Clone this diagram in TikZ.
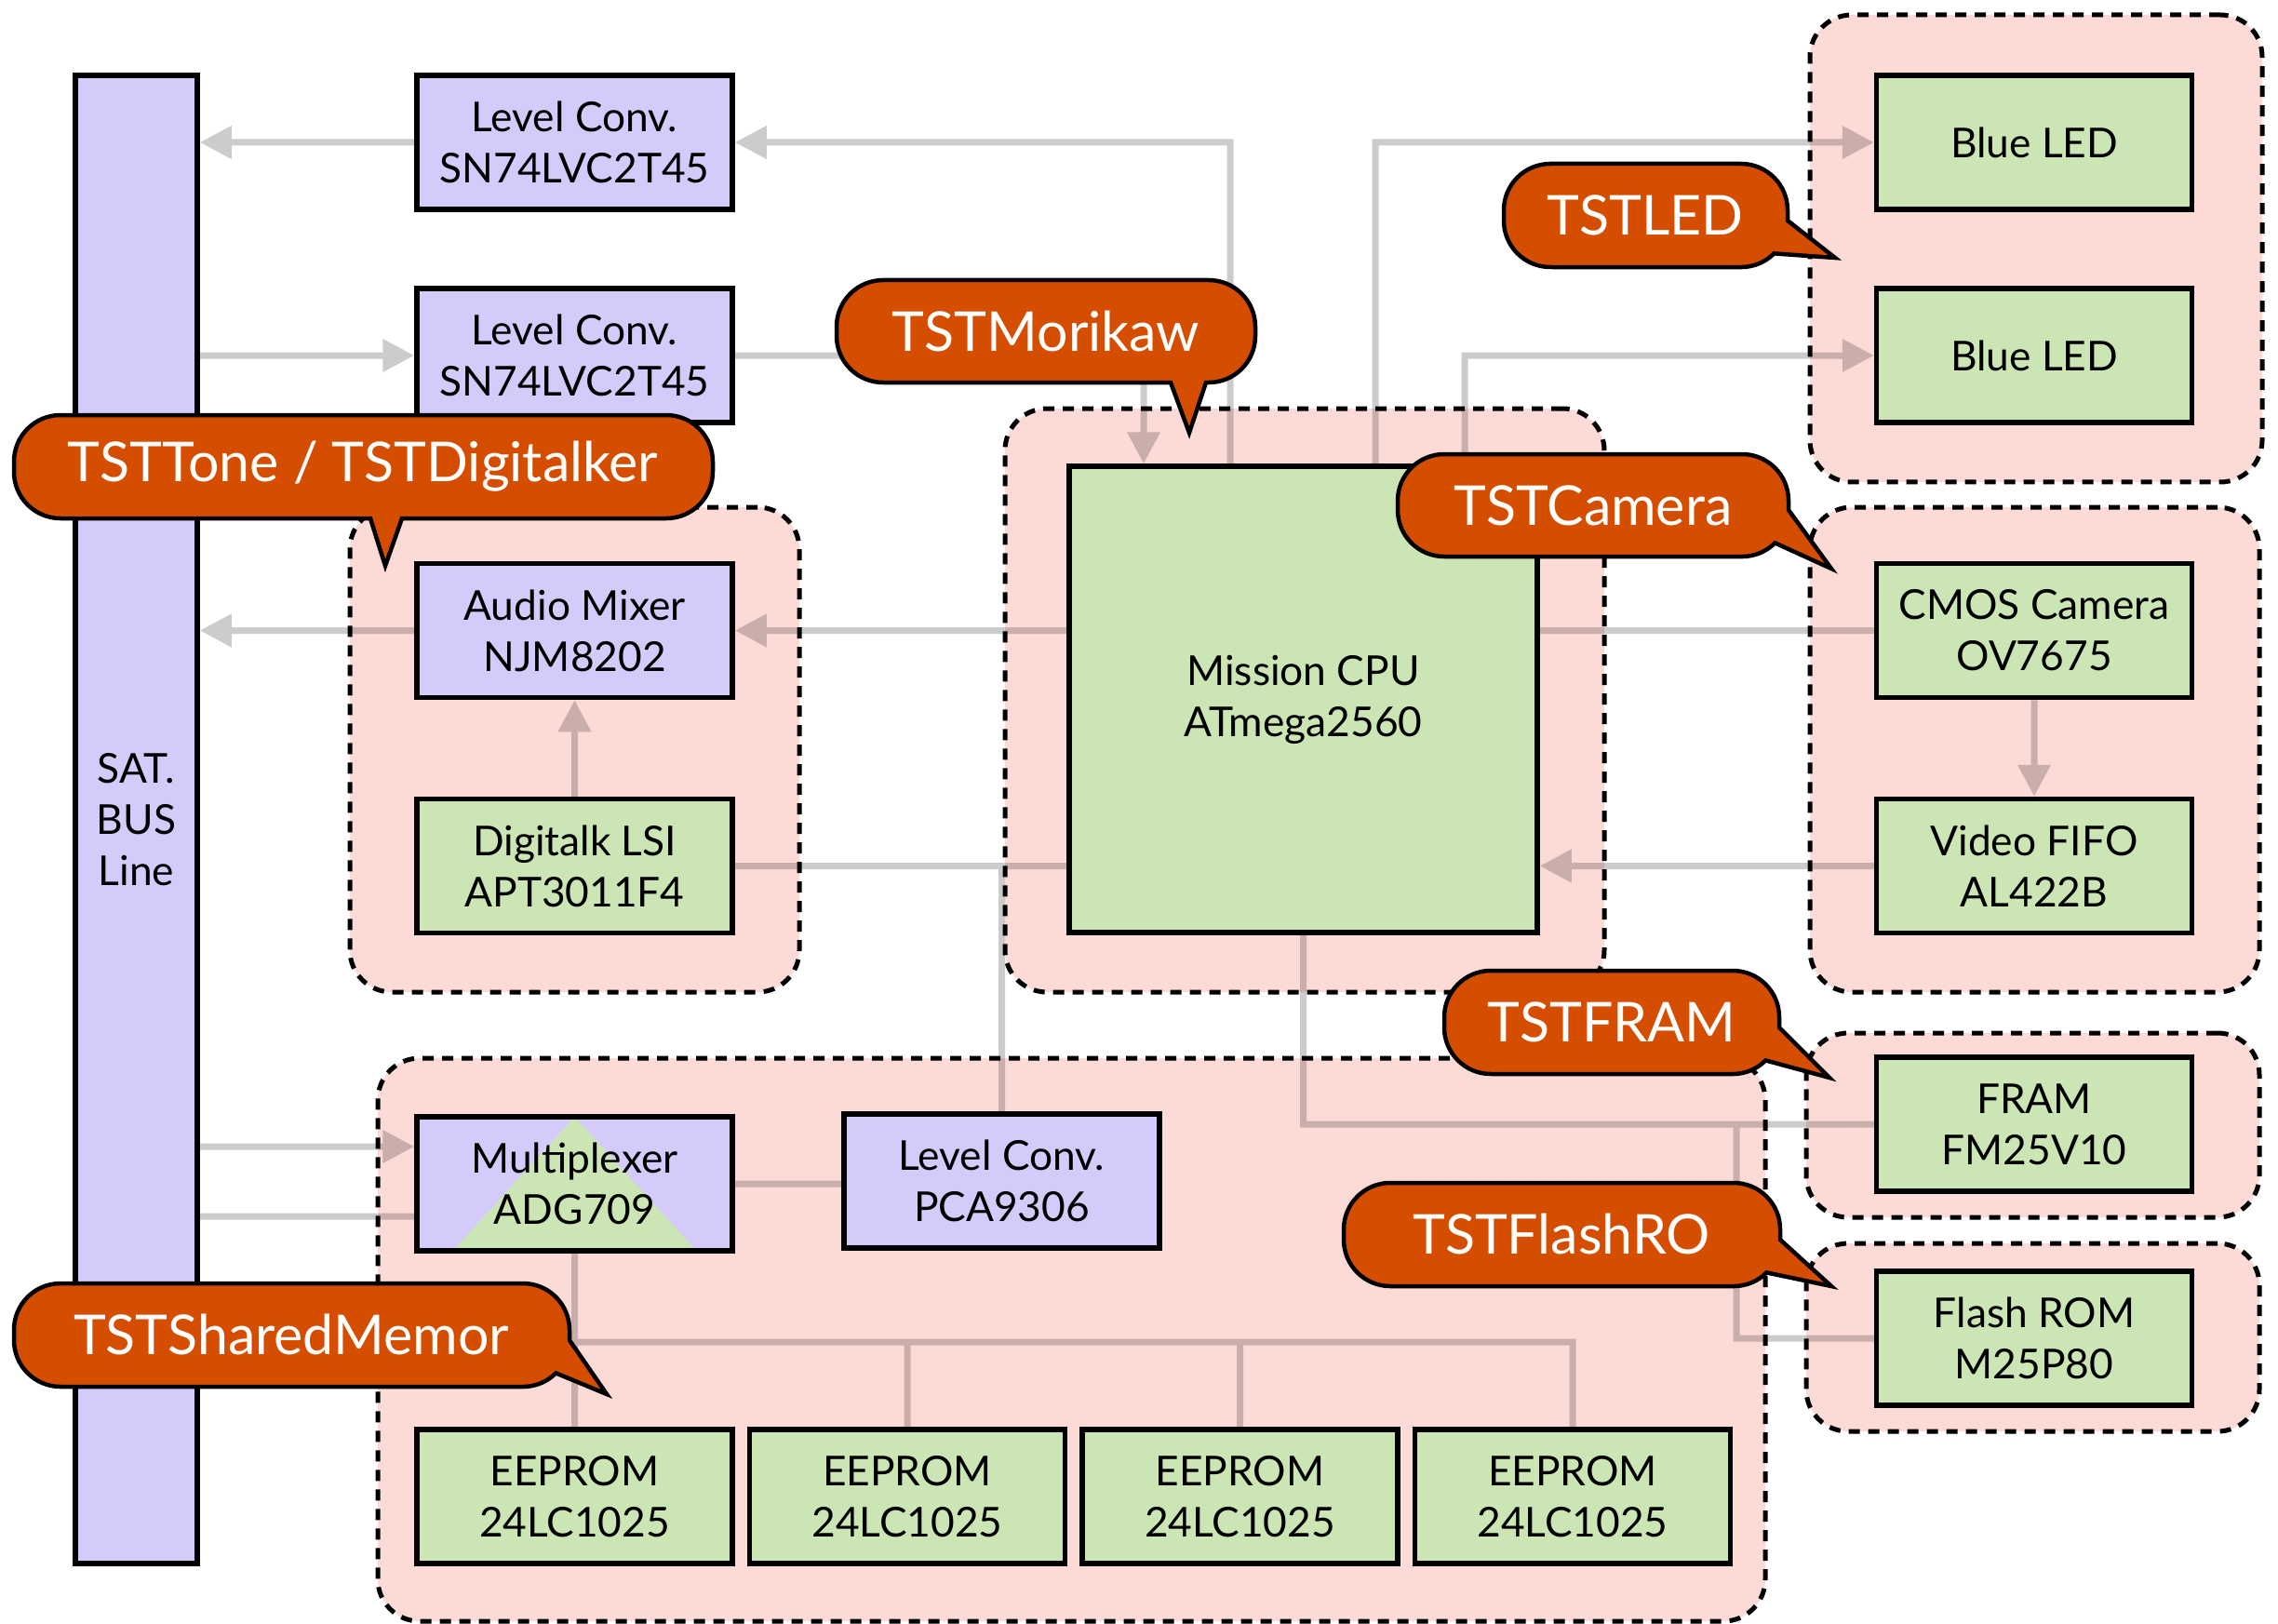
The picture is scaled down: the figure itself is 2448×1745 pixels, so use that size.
\documentclass[tikz,border=0pt]{standalone}
\usepackage{fontspec}
\setmainfont{Lato}
\usetikzlibrary{arrows.meta,calc}
\definecolor{boxpurple}{HTML}{D5CBFB}
\definecolor{boxgreen}{HTML}{CCE5B4}
\definecolor{grouppink}{HTML}{FCDAD6}
\definecolor{calloutorange}{HTML}{D54E00}
\newcommand{\bxfont}{\fontsize{12.6}{15.6}\selectfont}
\newcommand{\clfont}{\fontsize{16.8}{19}\selectfont}
\pgfdeclarelayer{base}
\pgfdeclarelayer{grp}
\pgfdeclarelayer{conlayer}
\pgfsetlayers{base,grp,conlayer,main}
\begin{document}
\begin{tikzpicture}[x=0.1mm, y=-0.1mm,
  box/.style={draw=black, line width=0.55mm, minimum width=33.9mm, minimum height=14.4mm, inner sep=0pt, align=center, font=\bxfont, text=black},
  pbox/.style={box, fill=boxpurple},
  gbox/.style={box, fill=boxgreen},
  group/.style={draw=black, fill=grouppink, line width=0.5mm, dash pattern=on 1.2mm off 0.9mm, rounded corners=4.5mm, inner sep=0pt},
  conn/.style={line width=0.7mm, draw=black},
  arr/.style={conn, -{Triangle[length=3.4mm, width=3.4mm]}},
  callout/.style={fill=calloutorange, draw=black, line width=0.45mm},
  ctext/.style={text=white, font=\clfont, inner sep=0pt}
]
\begin{pgfonlayer}{base}
\fill[white] (0,0) rectangle (2448,1745);
\end{pgfonlayer}
\useasboundingbox (0,0) rectangle (2448,1745);

% ---------- groups ----------
\begin{pgfonlayer}{grp}
\node[group, minimum width=48.6mm, minimum height=50.2mm] (gLED) at (2188,267) {};
\node[group, minimum width=48.3mm, minimum height=52.1mm] (gCam) at (2186.5,805.5) {};
\node[group, minimum width=48.7mm, minimum height=19.8mm] (gFRAM) at (2184.5,1209) {};
\node[group, minimum width=48.7mm, minimum height=20.2mm] (gFlash) at (2184.5,1437) {};
\node[group, minimum width=64.4mm, minimum height=62.7mm] (gMori) at (1402,752.5) {};
\node[group, minimum width=48.3mm, minimum height=52.1mm] (gTone) at (617.5,805.5) {};
\node[group, minimum width=149.1mm, minimum height=60.5mm] (gShared) at (1151.5,1439.5) {};
\end{pgfonlayer}

% ---------- boxes ----------
\node[draw=black, fill=boxpurple, line width=0.55mm, minimum width=13.1mm, minimum height=159.9mm, inner sep=0pt, align=center, font=\bxfont] (bus) at (146.5,880.5) {SAT.\\BUS\\Line};
\node[pbox] (lc1) at (617.5,153) {Level Conv.\\SN74LVC2T45};
\node[pbox] (lc2) at (617.5,382) {Level Conv.\\SN74LVC2T45};
\node[pbox] (mixer) at (617.5,677.5) {Audio Mixer\\NJM8202};
\node[gbox] (digi) at (617.5,930.5) {Digitalk LSI\\APT3011F4};
\node[pbox, path picture={\fill[boxgreen] (path picture bounding box.north) -- ($(path picture bounding box.south)+(13.1mm,0)$) -- ($(path picture bounding box.south)+(-13.1mm,0)$) -- cycle;}] (mux) at (617.5,1272) {Multiplexer\\ADG709};
\node[pbox] (pca) at (1076.5,1269) {Level Conv.\\PCA9306};
\node[gbox] (e1) at (617.5,1608) {EEPROM\\24LC1025};
\node[gbox] (e2) at (975,1608) {EEPROM\\24LC1025};
\node[gbox] (e3) at (1332.5,1608) {EEPROM\\24LC1025};
\node[gbox] (e4) at (1690,1608) {EEPROM\\24LC1025};
\node[gbox, minimum width=50.3mm, minimum height=50.1mm] (cpu) at (1400.5,751.5) {Mission CPU\\ATmega2560};
\node[gbox] (led1) at (2186,153) {Blue LED};
\node[gbox] (led2) at (2186,382) {Blue LED};
\node[gbox] (cmos) at (2186,677.5) {CMOS Camera\\OV7675};
\node[gbox] (fifo) at (2186,930.5) {Video FIFO\\AL422B};
\node[gbox] (fram) at (2186,1208) {FRAM\\FM25V10};
\node[gbox] (flash) at (2186,1438) {Flash ROM\\M25P80};

% ---------- connector helper coordinates ----------
\coordinate (xA) at (1322,0);
\coordinate (xB) at (1229,0);
\coordinate (xC) at (1478,0);
\coordinate (xD) at (1574,0);
\coordinate (xF) at (1866,0);
\coordinate (yM1) at (0,1232);
\coordinate (yM2) at (0,1307);
\coordinate (yT) at (0,1442);

% ---------- connectors ----------
\begin{pgfonlayer}{conlayer}
\begin{scope}[transparency group, opacity=0.2]
\draw[arr] (lc1.west) -- (lc1.west -| bus.east);
\draw[arr] (cpu.north -| xA) |- (lc1.east);
\draw[arr] (bus.east |- lc2.west) -- (lc2.west);
\draw[arr] (lc2.east) -| (cpu.north -| xB);
\draw[arr] (cpu.north -| xC) |- (led1.west);
\draw[arr] (cpu.north -| xD) |- (led2.west);
\draw[arr] (cpu.west |- mixer.east) -- (mixer.east);
\draw[arr] (mixer.west) -- (mixer.west -| bus.east);
\draw[arr] (digi.north) -- (mixer.south);
\draw[conn] (digi.east) -- (digi.east -| cpu.west) (pca.north) -- (pca.north |- digi.east);
\draw[conn] (cmos.west) -- (cmos.west -| cpu.east);
\draw[arr] (cmos.south) -- (fifo.north);
\draw[arr] (fifo.west) -- (fifo.west -| cpu.east);
\draw[conn] (cpu.south) |- (fram.west) (flash.west) -| (xF |- fram.west);
\draw[arr] (bus.east |- yM1) -- (mux.west |- yM1);
\draw[conn] (bus.east |- yM2) -- (mux.west |- yM2);
\draw[conn] (mux.east) -- (mux.east -| pca.west);
\draw[conn] (mux.south) -- (e1.north) (e1.north |- yT) -- (e4.north |- yT) -- (e4.north) (e2.north) -- (e2.north |- yT) (e3.north) -- (e3.north |- yT);
\end{scope}
\end{pgfonlayer}

% ---------- callouts ----------
% TSTMorikaw
\filldraw[callout] (949,301) -- (1299,301) arc[start angle=90,end angle=0,radius=5mm] -- (1349,361) arc[start angle=0,end angle=-90,radius=5mm] -- (1296,411) -- (1278,465) -- (1258,411) -- (949,411) arc[start angle=270,end angle=180,radius=5mm] -- (899,351) arc[start angle=180,end angle=90,radius=5mm] -- cycle;
\node[ctext] (tMori) at (1124,356) {TSTMorikaw};
% TSTLED
\filldraw[callout] (1666,176) -- (1871,176) arc[start angle=90,end angle=0,radius=5mm] -- (1921,237) -- (1972,277) -- (1906.4,272.4) arc[start angle=-45,end angle=-90,radius=5mm] -- (1666,287) arc[start angle=270,end angle=180,radius=5mm] -- (1616,226) arc[start angle=180,end angle=90,radius=5mm] -- cycle;
\node[ctext] (tLED) at (1768,231) {TSTLED};
% TSTTone / TSTDigitalker
\filldraw[callout] (65,446) -- (716,446) arc[start angle=90,end angle=0,radius=5mm] -- (766,507) arc[start angle=0,end angle=-90,radius=5mm] -- (432,557) -- (414,608) -- (398,557) -- (65,557) arc[start angle=270,end angle=180,radius=5mm] -- (15,496) arc[start angle=180,end angle=90,radius=5mm] -- cycle;
\node[ctext] (tTone) at (390,501) {TSTTone / TSTDigitalker};
% TSTCamera
\filldraw[callout] (1552,488) -- (1872,488) arc[start angle=90,end angle=0,radius=5mm] -- (1922,548) -- (1968,611) -- (1907.4,583.4) arc[start angle=-45,end angle=-90,radius=5mm] -- (1552,598) arc[start angle=270,end angle=180,radius=5mm] -- (1502,538) arc[start angle=180,end angle=90,radius=5mm] -- cycle;
\node[ctext] (tCam) at (1712,543) {TSTCamera};
% TSTFRAM
\filldraw[callout] (1602,1043) -- (1862,1043) arc[start angle=90,end angle=0,radius=5mm] -- (1912,1104) -- (1966,1158) -- (1897.4,1139.4) arc[start angle=-45,end angle=-90,radius=5mm] -- (1602,1154) arc[start angle=270,end angle=180,radius=5mm] -- (1552,1093) arc[start angle=180,end angle=90,radius=5mm] -- cycle;
\node[ctext] (tFRAM) at (1732,1098) {TSTFRAM};
% TSTFlashRO
\filldraw[callout] (1494,1271) -- (1863,1271) arc[start angle=90,end angle=0,radius=5mm] -- (1913,1332) -- (1968,1382) -- (1898.4,1367.4) arc[start angle=-45,end angle=-90,radius=5mm] -- (1494,1382) arc[start angle=270,end angle=180,radius=5mm] -- (1444,1321) arc[start angle=180,end angle=90,radius=5mm] -- cycle;
\node[ctext] (tFlash) at (1678,1326) {TSTFlashRO};
% TSTSharedMemor
\filldraw[callout] (65,1379) -- (562,1379) arc[start angle=90,end angle=0,radius=5mm] -- (612,1440) -- (652,1498) -- (597.4,1475.4) arc[start angle=-45,end angle=-90,radius=5mm] -- (65,1490) arc[start angle=270,end angle=180,radius=5mm] -- (15,1429) arc[start angle=180,end angle=90,radius=5mm] -- cycle;
\node[ctext] (tShared) at (313,1434) {TSTSharedMemor};
\end{tikzpicture}
\end{document}
